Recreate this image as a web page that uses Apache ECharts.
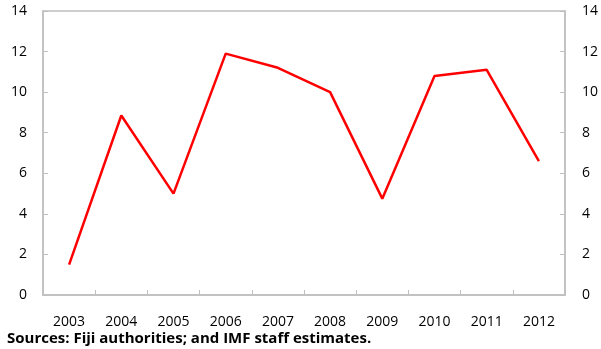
<!DOCTYPE html>
<html>
<head>
<meta charset="utf-8">
<script src="https://cdn.jsdelivr.net/npm/echarts@6/dist/echarts.min.js"></script>
<style>
  html, body { margin: 0; padding: 0; background: #fff; }
  #chart { width: 601px; height: 349px; }
</style>
</head>
<body>
<div id="chart"></div>
<script>
// Annual series, 2003–2012
const years = ['2003', '2004', '2005', '2006', '2007', '2008', '2009', '2010', '2011', '2012'];
const values = [1.5, 8.85, 5.0, 11.9, 11.2, 10.0, 4.75, 10.8, 11.1, 6.6];
const yTicks = { min: 0, max: 14, interval: 2 };
const sourceNote = 'Sources: Fiji authorities; and IMF staff estimates.';

const FONT = '"Open Sans", "Noto Sans", sans-serif';
const AXIS_GRAY = '#bfbfbf';

const yAxisBase = {
  type: 'value',
  min: yTicks.min,
  max: yTicks.max,
  interval: yTicks.interval,
  axisLine: { show: true, lineStyle: { color: AXIS_GRAY, width: 1.5 } },
  axisTick: { show: true, inside: true, length: 5, lineStyle: { color: AXIS_GRAY } },
  splitLine: { show: false },
  axisLabel: { color: '#000', fontSize: 14, fontFamily: FONT }
};

const chart = echarts.init(document.getElementById('chart'), null, { renderer: 'canvas' });
chart.setOption({
  animation: false,
  backgroundColor: '#fff',
  grid: {
    left: 43, right: 34, top: 11, bottom: 54,
    show: true, borderColor: AXIS_GRAY, borderWidth: 1.5, backgroundColor: 'transparent'
  },
  xAxis: {
    type: 'category',
    data: years,
    boundaryGap: true,
    axisLine: { show: true, lineStyle: { color: AXIS_GRAY, width: 1.5 } },
    axisTick: { show: true, inside: true, length: 5, lineStyle: { color: AXIS_GRAY } },
    axisLabel: { color: '#000', fontSize: 14, fontFamily: FONT, margin: 20 },
    splitLine: { show: false }
  },
  yAxis: [
    Object.assign({}, yAxisBase, { position: 'left', axisLabel: Object.assign({}, yAxisBase.axisLabel, { margin: 16 }) }),
    Object.assign({}, yAxisBase, { position: 'right', axisLabel: Object.assign({}, yAxisBase.axisLabel, { margin: 17 }) })
  ],
  series: [{
    type: 'line',
    data: values,
    yAxisIndex: 0,
    symbol: 'none',
    lineStyle: { color: '#ff0000', width: 2.5 },
    itemStyle: { color: '#ff0000' }
  }],
  graphic: [{
    type: 'text',
    left: 7,
    top: 331,
    style: { text: sourceNote, fill: '#000', font: 'bold 15px ' + FONT }
  }]
});
</script>
</body>
</html>
